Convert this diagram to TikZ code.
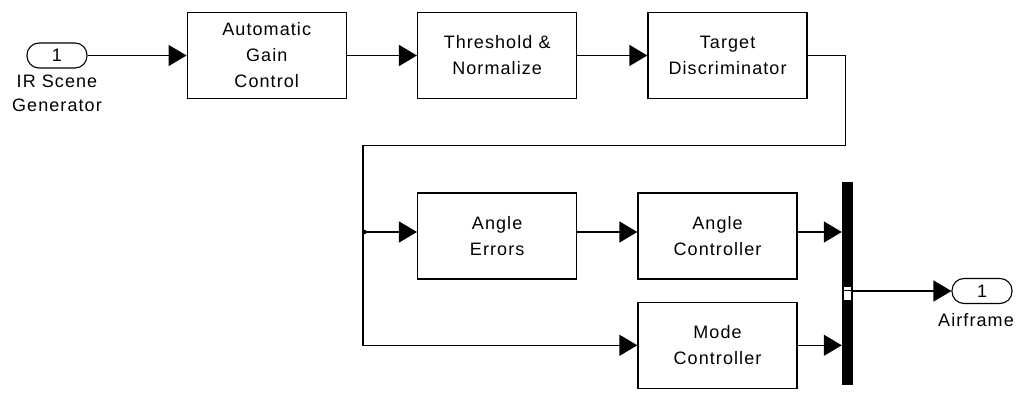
\documentclass[tikz,border=0pt]{standalone}
\usepackage{fontspec}
\setmainfont{Liberation Sans}[LetterSpace=6]
\usepackage{tikz}
\usetikzlibrary{calc,positioning,arrows.meta}
\tikzset{
    >={Triangle[length=18pt,width=21pt]},
    block/.style={
        rectangle,
        draw, line width=1.4pt,
        minimum width=159pt,
        minimum height=86pt,
        align=center,
        font={\fontsize{18pt}{26pt}\selectfont}
    },
    port/.style={
        rectangle,
        rounded corners=12pt,
        draw, line width=1.1pt,
        minimum width=60pt,
        minimum height=25pt,
        inner sep=0pt,
        font={\fontsize{18pt}{22pt}\selectfont}
    },
    portlabel/.style={
        align=center, inner sep=0pt,
        font={\fontsize{18pt}{24pt}\selectfont}
    },
    sig/.style={draw, line width=1.4pt, ->},
}

\begin{document}
\begin{tikzpicture}
    [
        x=1pt, y=1pt,
        muxbar/.style={rectangle, fill=black, inner sep=0pt, minimum width=11pt, minimum height=203pt},
    ]
    \useasboundingbox (0,0) rectangle (1018,-395);

    \node(in1)[port] at (57,-55.5){1};
    \node(in1lab)[portlabel, below=6pt of in1]{IR Scene\\Generator};
    \node(agc)[block, right=99pt of in1]{Automatic\\Gain\\Control};
    \node(thr)[block, right=70pt of agc]{Threshold \&\\Normalize};
    \node(tgt)[block, right=70pt of thr]{Target\\Discriminator};

    \node(aerr)[block, below=93pt of thr]{Angle\\Errors};
    \node(actl)[block, right=60pt of aerr]{Angle\\Controller};
    \node(mctl)[block, below=22pt of actl]{Mode\\Controller};

    \node(mux)[muxbar] at (847.5,-283.5){};
    \node(out1)[port] at (982,-291){1};
    \node(out1lab)[portlabel, below=9pt of out1, xshift=-6pt]{Airframe};

    % top row
    \draw[sig] (in1) -- (agc);
    \draw[sig] (agc) -- (thr);
    \draw[sig] (thr) -- (tgt);

    % feedback down to the lower row
    \coordinate (fb) at ($(tgt.east)+(38pt,-90pt)$);
    \coordinate (split) at (363,-232);
    \draw[sig] (tgt.east) -| (fb) -| (split) |- (mctl.west);
    \draw[sig] (split) -- (aerr.west |- split);
    \fill (split) ++(-1pt,1.5pt) rectangle ++(3.5pt,-3.5pt);

    % lower rows into the mux
    \draw[sig] (aerr.east |- split) -- (actl.west |- split);
    \draw[sig] (actl.east |- split) -- (mux.west |- split);
    \draw[sig] (mctl.east) -- (mctl.east -| mux.west);
    \draw[sig] (mux.east |- out1.west) -- (out1.west);

    % port mark on the bar
    \fill[white] ($(mux.west |- out1)+(2pt,4pt)$) rectangle ($(mux.east |- out1)+(-2pt,-9pt)$);
    \draw[line width=1pt] (mux.west |- out1) -- (mux.east |- out1);
\end{tikzpicture}
\end{document}
